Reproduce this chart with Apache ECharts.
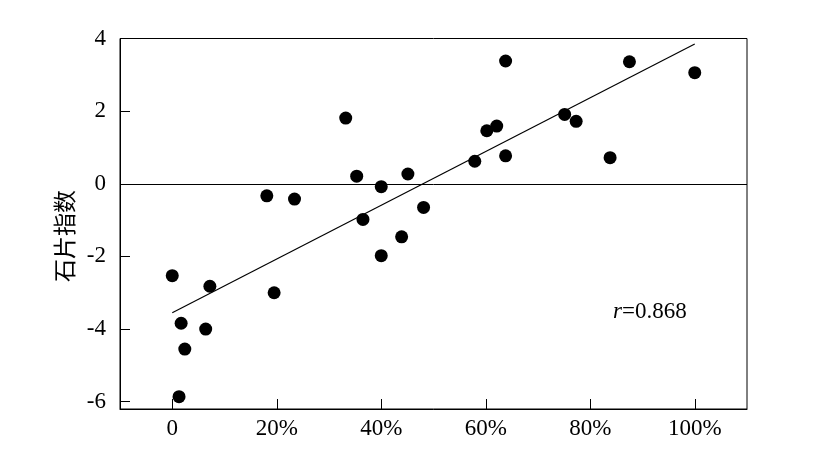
<!DOCTYPE html>
<html><head><meta charset="utf-8">
<script src="https://cdn.jsdelivr.net/npm/echarts@6/dist/echarts.min.js"></script>
<style>html,body{margin:0;padding:0;background:#fff}#c{width:822px;height:461px}</style>
</head><body><div id="c"></div>
<script>
// data: x = percentage (%), y = 石片指数
const xValues = [0, 1.7, 1.3, 2.4, 6.4, 7.2, 18.1, 19.5, 23.4, 33.2, 35.3, 36.5, 40.0, 40.0, 43.9, 45.1, 48.1, 57.9, 60.2, 62.1, 63.8, 63.8, 75.1, 77.3, 83.8, 87.5, 100];
const yValues = [-2.53, -3.84, -5.86, -4.55, -4.0, -2.82, -0.33, -3.0, -0.42, 1.81, 0.21, -0.98, -0.08, -1.98, -1.46, 0.27, -0.65, 0.62, 1.46, 1.59, 3.38, 0.77, 1.91, 1.72, 0.72, 3.36, 3.06];
const fitLine = [[0, -3.55], [100, 3.85]];
const xTicks = [0, 20, 40, 60, 80, 100];
const yTicks = [-6, -4, -2, 0, 2, 4];
const yName = '石片指数';

const points = xValues.map((x, i) => [x, yValues[i]]);
const serif = '"Liberation Serif", "Times New Roman", serif';
const chart = echarts.init(document.getElementById('c'), null, {renderer: 'canvas'});
chart.setOption({
  animation: false,
  backgroundColor: '#fff',
  grid: {left: 120, top: 38.5, right: 75, bottom: 52, show: true, borderColor: '#000', borderWidth: 1, backgroundColor: 'transparent'},
  xAxis: {
    type: 'value', min: -10, max: 110,
    axisLine: {show: true, onZero: false, lineStyle: {color: '#000', width: 1}},
    axisTick: {show: true, inside: true, length: 10, customValues: xTicks, lineStyle: {color: '#000'}},
    axisLabel: {customValues: xTicks, color: '#000', fontFamily: serif, fontSize: 23, margin: 8,
      formatter: v => v === 0 ? '0' : v + '%'},
    splitLine: {show: false}
  },
  yAxis: {
    type: 'value', min: -6.2, max: 4,
    axisLine: {show: true, onZero: false, lineStyle: {color: '#000', width: 1}},
    axisTick: {show: true, inside: true, length: 10, customValues: yTicks, lineStyle: {color: '#000'}},
    axisLabel: {customValues: yTicks, color: '#000', fontFamily: serif, fontSize: 23, margin: 14},
    splitLine: {show: false}
  },
  series: [
    {
      type: 'scatter', data: points, symbol: 'circle', symbolSize: 13,
      itemStyle: {color: '#000', opacity: 1},
      markLine: {silent: true, symbol: 'none', label: {show: false},
        lineStyle: {color: '#000', width: 1, type: 'solid'},
        data: [{yAxis: 0}]}
    },
    {
      type: 'line', data: fitLine, symbol: 'none', lineStyle: {color: '#000', width: 1.2}
    }
  ],
  graphic: [
    {
      type: 'text', x: 64, y: 236, rotation: Math.PI / 2,
      style: {text: yName, fontFamily: '"Noto Sans CJK SC", sans-serif', fontSize: 23, fill: '#000',
        align: 'center', verticalAlign: 'middle'}
    },
    {
      type: 'text', left: 613, top: 300,
      style: {
        text: '{i|r}{n|=0.868}',
        rich: {
          i: {fontFamily: serif, fontStyle: 'italic', fontSize: 23, fill: '#000'},
          n: {fontFamily: serif, fontSize: 23, fill: '#000'}
        }
      }
    }
  ]
});
</script></body></html>
